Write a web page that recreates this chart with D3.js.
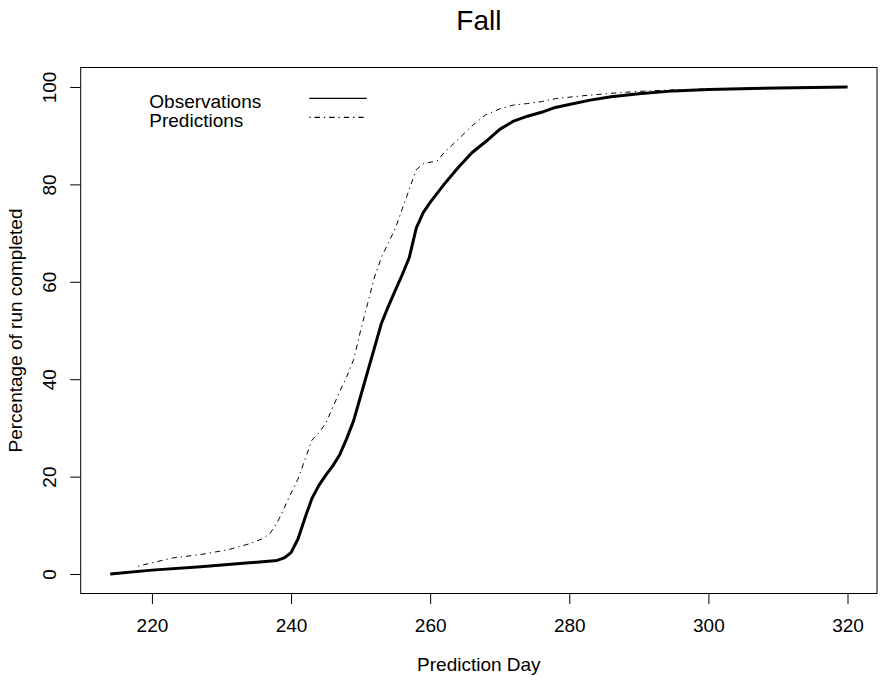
<!DOCTYPE html>
<html>
<head>
<meta charset="utf-8">
<script src="https://cdn.jsdelivr.net/npm/d3@7"></script>
<style>
  body { margin: 0; background: #fff; }
  svg { display: block; font-family: "Liberation Sans", Arial, Helvetica, sans-serif; }
</style>
</head>
<body>
<svg id="chart"></svg>
<script>
// observed run timing (cumulative %)
var obsDay = [214, 220, 227, 234, 238, 239, 240, 241, 242, 243, 244, 245, 246, 247, 248, 249, 250,
  251, 252, 253, 254, 255, 256, 257, 258, 259, 260, 262, 264, 266, 268, 270, 272, 274, 276, 278,
  280, 283, 286, 290, 295, 300, 310, 320];
var obsPct = [0, 0.8, 1.5, 2.3, 2.8, 3.3, 4.4, 7.2, 11.5, 15.5, 18.2, 20.3, 22.2, 24.5, 27.8, 31.5, 36.5,
  41.5, 46.5, 51.5, 55, 58.3, 61.5, 65, 71, 74.2, 76.3, 80, 83.4, 86.5, 88.8, 91.3, 93, 94, 94.8, 95.8,
  96.4, 97.3, 98, 98.6, 99.2, 99.5, 99.8, 100];

// predicted run timing (cumulative %)
var predDay = [218, 220, 223, 227, 229, 231, 234, 236, 237, 238, 239, 240, 241, 242, 243, 244, 245,
  246, 247, 248, 249, 250, 251, 252, 253, 254, 255, 256, 257, 258, 259, 261, 262, 264, 266, 268,
  270, 272, 274, 276, 278, 282, 286, 290, 295, 300, 310, 320];
var predPct = [1.6, 2.3, 3.3, 4.0, 4.5, 5.0, 6.2, 7.3, 8.4, 10.5, 13.5, 16.6, 19.5, 23.5, 27.5, 29, 31,
  34.2, 37.5, 40.5, 44, 50, 55.5, 61, 65, 68, 71, 75, 79, 83, 84.3, 84.8, 86.5, 89.2, 92, 94.3,
  95.5, 96.3, 96.6, 97.0, 97.6, 98.2, 98.7, 99.1, 99.4, 99.6, 99.9, 100];

var xTicks = [220, 240, 260, 280, 300, 320];
var yTicks = [0, 20, 40, 60, 80, 100];
var legendLabels = ["Observations", "Predictions"];

var W = 882, H = 681;
var box = { left: 80.7, right: 877, top: 67.5, bottom: 593.5 };

var svg = d3.select("#chart").attr("width", W).attr("height", H);

// R style 4% padding around the data range
var x = d3.scaleLinear().domain([209.76, 324.24]).range([box.left, box.right]);
var y = d3.scaleLinear().domain([-4, 104]).range([box.bottom, box.top]);

var obs = obsDay.map(function(d, i){ return { day: d, pct: obsPct[i] }; });
var pred = predDay.map(function(d, i){ return { day: d, pct: predPct[i] }; });

var line = d3.line()
  .x(function(d){ return x(d.day); })
  .y(function(d){ return y(d.pct); });

// x axis
var xAxis = svg.append("g")
  .attr("transform", "translate(0," + box.bottom + ")")
  .call(d3.axisBottom(x).tickValues(xTicks).tickSize(10.5).tickPadding(14.5));
xAxis.select(".domain").remove();
xAxis.selectAll("line").attr("stroke", "#000").attr("stroke-width", 1);
xAxis.selectAll("text").attr("font-size", 19).attr("fill", "#000")
  .attr("font-family", "Liberation Sans, Arial, sans-serif");

// y axis, labels rotated like R
var yAxis = svg.append("g")
  .attr("transform", "translate(" + box.left + ",0)")
  .call(d3.axisLeft(y).tickValues(yTicks).tickSize(10.5));
yAxis.select(".domain").remove();
yAxis.selectAll("line").attr("stroke", "#000").attr("stroke-width", 1);
yAxis.selectAll("text")
  .attr("x", null).attr("dy", null)
  .attr("transform", "translate(-24.5,0) rotate(-90)")
  .attr("text-anchor", "middle")
  .attr("font-size", 19).attr("fill", "#000")
  .attr("font-family", "Liberation Sans, Arial, sans-serif");

// plot box
svg.append("rect")
  .attr("x", box.left).attr("y", box.top)
  .attr("width", box.right - box.left).attr("height", box.bottom - box.top)
  .attr("fill", "none").attr("stroke", "#000").attr("stroke-width", 1);

// lines
svg.append("path")
  .datum(pred)
  .attr("d", line)
  .attr("fill", "none").attr("stroke", "#000").attr("stroke-width", 1)
  .attr("stroke-dasharray", "1.3,4,5.3,4");

svg.append("path")
  .datum(obs)
  .attr("d", line)
  .attr("fill", "none").attr("stroke", "#000").attr("stroke-width", 3)
  .attr("stroke-linejoin", "round");

// legend
var legend = svg.append("g");
legend.selectAll("text")
  .data(legendLabels)
  .enter().append("text")
  .attr("x", 149.3)
  .attr("y", function(d, i){ return 107.7 + i * 19; })
  .attr("font-size", 19)
  .text(function(d){ return d; });

legend.selectAll("line")
  .data(legendLabels)
  .enter().append("line")
  .attr("x1", 309.3).attr("x2", 366.7)
  .attr("y1", function(d, i){ return 98.3 + i * 19; })
  .attr("y2", function(d, i){ return 98.3 + i * 19; })
  .attr("stroke", "#000").attr("stroke-width", 1.3)
  .attr("stroke-dasharray", function(d, i){ return i == 1 ? "1.3,4,5.3,4" : null; });

// titles
svg.append("text")
  .attr("x", (box.left + box.right) / 2).attr("y", 29.5)
  .attr("text-anchor", "middle").attr("font-size", 28)
  .text("Fall");

svg.append("text")
  .attr("x", (box.left + box.right) / 2).attr("y", 670.5)
  .attr("text-anchor", "middle").attr("font-size", 19)
  .text("Prediction Day");

svg.append("text")
  .attr("transform", "translate(22," + ((box.top + box.bottom) / 2) + ") rotate(-90)")
  .attr("text-anchor", "middle").attr("font-size", 19)
  .text("Percentage of run completed");
</script>
</body>
</html>
